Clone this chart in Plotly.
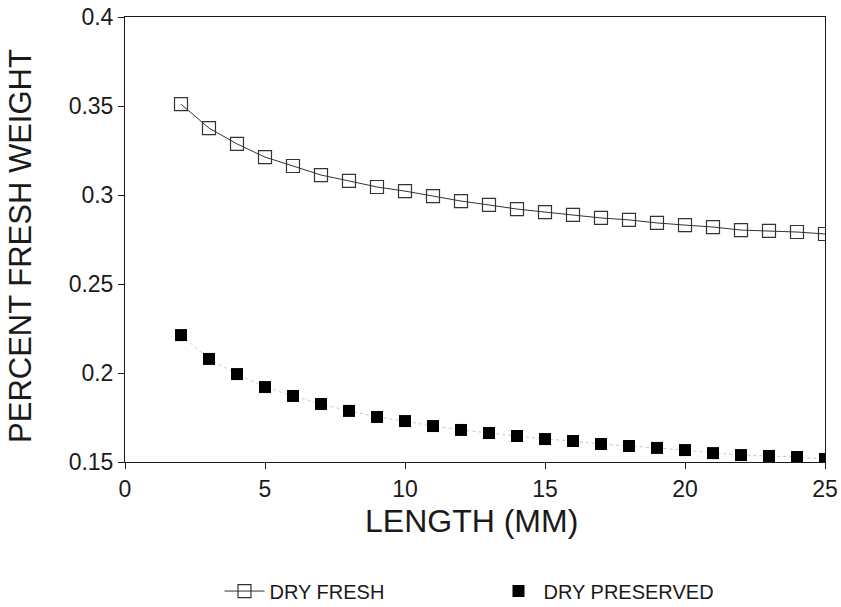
import plotly.graph_objects as go

length_mm = list(range(2, 26))
dry_fresh = [0.351, 0.3376, 0.3287, 0.3213, 0.3163, 0.3112, 0.3079, 0.3045, 0.3022, 0.2994,
             0.2966, 0.2944, 0.2921, 0.2904, 0.2888, 0.2871, 0.2860, 0.2843, 0.2831, 0.2820,
             0.2803, 0.2798, 0.2792, 0.2781]
dry_preserved = [0.2213, 0.2079, 0.1994, 0.1921, 0.1871, 0.1826, 0.1787, 0.1753, 0.1730, 0.1702,
                 0.1680, 0.1663, 0.1646, 0.1629, 0.1618, 0.1601, 0.1590, 0.1579, 0.1567, 0.1550,
                 0.1539, 0.1534, 0.1528, 0.1517]
x_ticks = [0, 5, 10, 15, 20, 25]
y_ticks = [0.15, 0.2, 0.25, 0.3, 0.35, 0.4]
y_tick_labels = ["0.15", "0.2", "0.25", "0.3", "0.35", "0.4"]

font = "Liberation Sans, Arial, sans-serif"
ink = "#1a1a1a"

fig = go.Figure()
fig.add_trace(go.Scatter(
    x=length_mm, y=dry_fresh, name="DRY FRESH", mode="lines+markers",
    line=dict(color="#333333", width=1),
    marker=dict(symbol="square-open", size=13, color="#333333", line=dict(width=1.2)),
))
fig.add_trace(go.Scatter(
    x=length_mm, y=dry_preserved, name="DRY PRESERVED", mode="lines+markers",
    line=dict(color="#c8c8c8", width=1, dash="dot"),
    marker=dict(symbol="square", size=12, color="#000000"),
    legendgroup="pres", showlegend=False,
))
# legend entry for preserved series: marker only
fig.add_trace(go.Scatter(
    x=[None], y=[None], name="DRY PRESERVED", mode="markers",
    marker=dict(symbol="square", size=12, color="#000000"),
    legendgroup="pres", showlegend=True,
))

fig.update_layout(
    width=841, height=607,
    paper_bgcolor="white", plot_bgcolor="white",
    margin=dict(l=125, r=16, t=17, b=145, autoexpand=False),
    font=dict(family=font, color=ink, size=23),
    showlegend=True,
    legend=dict(orientation="h", x=0.135, xanchor="left", y=-0.29, yanchor="middle",
                font=dict(size=20, color=ink), itemwidth=40, traceorder="normal",
                entrywidthmode="pixels", entrywidth=219, bgcolor="rgba(0,0,0,0)"),
    annotations=[
        dict(text="LENGTH (MM)", xref="paper", yref="paper", x=0.4957, y=-0.1326,
             xanchor="center", yanchor="middle", showarrow=False,
             font=dict(size=32, color=ink, family=font)),
        dict(text="PERCENT FRESH WEIGHT", xref="paper", yref="paper", x=-0.1486, y=0.4854,
             xanchor="center", yanchor="middle", showarrow=False, textangle=-90,
             font=dict(size=31, color=ink, family=font)),
    ],
)
fig.update_xaxes(
    range=[0, 25], tickvals=x_ticks, ticks="outside", ticklen=6, tickcolor=ink,
    showline=True, linecolor=ink, linewidth=1, mirror=True, showgrid=False, zeroline=False,
    tickfont=dict(size=23, color=ink), automargin=False,
)
fig.update_yaxes(
    range=[0.15, 0.4], tickvals=y_ticks, ticktext=y_tick_labels, ticks="outside", ticklen=6,
    tickcolor=ink,
    showline=True, linecolor=ink, linewidth=1, mirror=True, showgrid=False, zeroline=False,
    tickfont=dict(size=23, color=ink), automargin=False,
)

# remove the page's default 8px body margin so the figure fills the window exactly
fig.write_html("out.html", config={"displayModeBar": False},
               post_script="document.body.style.margin='0';")
